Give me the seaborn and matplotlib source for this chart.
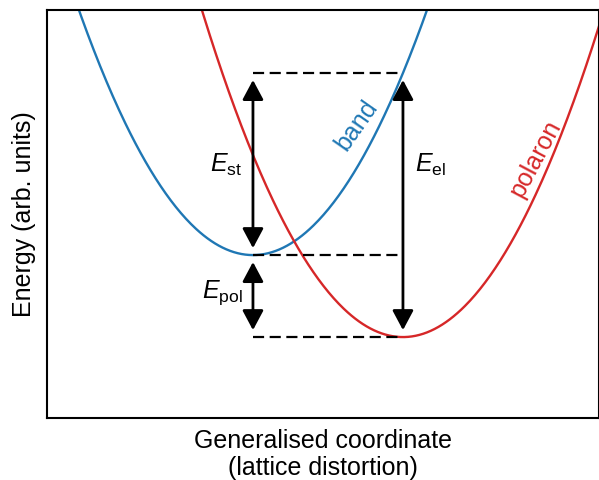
import numpy as np
import pandas as pd
import matplotlib
matplotlib.use('Agg')
import matplotlib.pyplot as plt
import seaborn as sns

# minima of the two energy parabolas: (coordinate, energy)
band_min = [0.0, 0.0]
polaron_min = [1.0, -1.0]
curvature = 2.22
coord_lim = [-1.373, 2.307]
energy_lim = [-1.988, 2.988]

curve_names = ['band', 'polaron']
curve_colors = ['#1f77b4', '#d62728']

sns.set_theme(style='white')
plt.rcParams['font.family'] = ['Liberation Sans', 'DejaVu Sans']
plt.rcParams['mathtext.fontset'] = 'custom'
plt.rcParams['mathtext.rm'] = 'Liberation Sans'
plt.rcParams['mathtext.it'] = 'Liberation Sans:italic'
plt.rcParams['text.color'] = 'black'
plt.rcParams['axes.labelcolor'] = 'black'

coord = np.linspace(-1.6, 2.6, 500)
frames = []
for name, (x0, e0) in zip(curve_names, [band_min, polaron_min]):
    frames.append(pd.DataFrame({'coord': coord,
                                'energy': curvature * (coord - x0) ** 2 + e0,
                                'state': name}))
curves = pd.concat(frames, ignore_index=True)

fig = plt.figure(figsize=(5.99, 4.8), dpi=100)
ax = fig.add_axes([0.0785, 0.129, 0.9215, 0.85])
sns.lineplot(data=curves, x='coord', y='energy', hue='state',
             palette=dict(zip(curve_names, curve_colors)), lw=1.7,
             legend=False, ax=ax, sort=False)

ax.set_xlim(coord_lim)
ax.set_ylim(energy_lim)

# energy levels
e_band = band_min[1]
e_pol = polaron_min[1]
e_vert = curvature * (polaron_min[0] - band_min[0]) ** 2 + band_min[1]
x_a, x_b = band_min[0], polaron_min[0]
for level in [e_vert, e_band, e_pol]:
    ax.plot([x_a, x_b], [level, level], color='black', lw=1.6,
            ls=(0, (5, 2.5)))

arrow_kw = dict(arrowstyle='<|-|>,head_length=0.6,head_width=0.32',
                mutation_scale=20, lw=2, color='black',
                shrinkA=5, shrinkB=5)
ax.annotate('', xy=(x_a, e_vert), xytext=(x_a, e_band), arrowprops=arrow_kw)
ax.annotate('', xy=(x_a, e_band), xytext=(x_a, e_pol), arrowprops=arrow_kw)
ax.annotate('', xy=(x_b, e_vert), xytext=(x_b, e_pol), arrowprops=arrow_kw)

ax.text(-0.07, 1.10, r'$E_\mathrm{st}$', fontsize=18, ha='right', va='center')
ax.text(-0.07, -0.46, r'$E_\mathrm{pol}$', fontsize=18, ha='right', va='center')
ax.text(1.08, 1.10, r'$E_\mathrm{el}$', fontsize=18, ha='left', va='center')

ax.text(0.69, 1.58, 'band', color=curve_colors[0], fontsize=18,
        rotation=55, ha='center', va='center')
ax.text(1.88, 1.18, 'polaron', color=curve_colors[1], fontsize=18,
        rotation=62, ha='center', va='center')

ax.set_xticks([])
ax.set_yticks([])
ax.set_xlabel('Generalised coordinate\n(lattice distortion)', fontsize=18,
              labelpad=8, linespacing=1.15)
ax.set_ylabel('Energy (arb. units)', fontsize=18, labelpad=8)
for side in ['left', 'top', 'bottom', 'right']:
    ax.spines[side].set_color('black')
    ax.spines[side].set_linewidth(1.5)

fig.savefig('out.png', dpi=100)
